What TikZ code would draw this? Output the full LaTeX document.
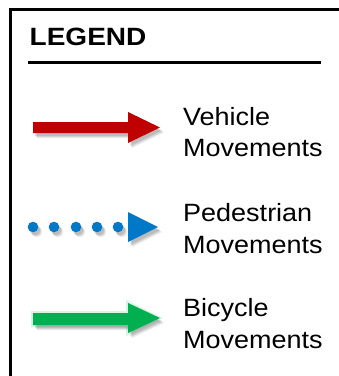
\documentclass[tikz,border=0pt]{standalone}
\usepackage{fontspec}
\setmainfont{Liberation Sans}[FakeStretch=1.08]
\newfontfamily\headfont{Liberation Sans}[FakeStretch=1.12,BoldFont={* Bold}]
\definecolor{vehred}{RGB}{192,0,0}
\definecolor{pedblue}{RGB}{0,120,200}
\definecolor{bikegreen}{RGB}{0,176,80}
\tikzset{
  label/.style={anchor=base west, inner sep=0pt, font=\fontsize{25}{30}\selectfont},
}
\begin{document}
\begin{tikzpicture}[x=1pt,y=-1pt]
\useasboundingbox (0,0) rectangle (339,376);
\fill[white] (0,0) rectangle (339,376);
% frame
\draw[line width=3pt] (10,9.5) rectangle (350,390);
% heading
\node[anchor=base west, inner sep=0pt, font=\headfont\bfseries\fontsize{25}{30}\selectfont] (head) at (29.5,45) {LEGEND};
\draw[line width=3pt] (28,62.5) -- (321,62.5);
% vehicle arrow
\foreach \d/\o in {0/0.10,1/0.10,2/0.08}{
  \fill[black, opacity=\o, shift={(2+\d,3+\d)}] (33,122) -- (128,122) -- (128,112) -- (160,127.5) -- (128,143) -- (128,133) -- (33,133) -- cycle;
}
\fill[vehred] (33,122) -- (128,122) -- (128,112) -- (160,127.5) -- (128,143) -- (128,133) -- (33,133) -- cycle;
% pedestrian arrow
\foreach \d/\o in {0/0.10,1/0.10,2/0.08}{
  \begin{scope}[shift={(2+\d,3+\d)}, opacity=\o]
  \foreach \x in {33,54,76,97,118} \fill[black] (\x,227) circle (5.3);
  \fill[black] (128,212) -- (158,227) -- (128,242) -- cycle;
  \end{scope}
}
\foreach \x in {33,54,76,97,118} \fill[pedblue] (\x,227) circle (5.3);
\fill[pedblue] (128,212) -- (158,227) -- (128,242) -- cycle;
% bicycle arrow
\fill[bikegreen!25, opacity=0.6] (31,311) -- (126,311) -- (126,300) -- (163,318) -- (126,336) -- (126,327) -- (31,327) -- cycle;
\foreach \d/\o in {0/0.10,1/0.10,2/0.08}{
  \fill[black, opacity=\o, shift={(2+\d,3+\d)}] (33,313) -- (128,313) -- (128,303) -- (160,318) -- (128,333) -- (128,325) -- (33,325) -- cycle;
}
\fill[bikegreen] (33,313) -- (128,313) -- (128,303) -- (160,318) -- (128,333) -- (128,325) -- (33,325) -- cycle;
% labels
\node[label] (veh1) at (183,125) {Vehicle};
\node[label] (veh2) at (183,156.5) {Movements};
\node[label] (ped1) at (183,221.5) {Pedestrian};
\node[label] (ped2) at (183,253) {Movements};
\node[label] (bik1) at (183,316.5) {Bicycle};
\node[label] (bik2) at (183,348) {Movements};
\end{tikzpicture}
\end{document}
